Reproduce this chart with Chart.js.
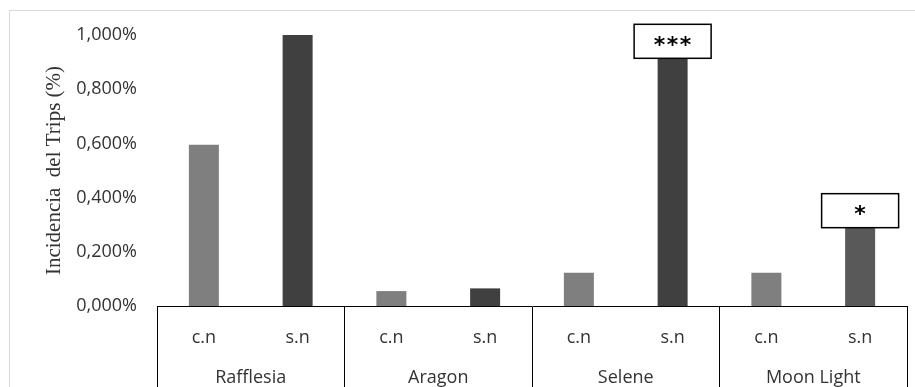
<!DOCTYPE html>
<html lang="es">
<head>
    <meta charset="UTF-8">
    <title>Incidencia del Trips</title>
    <style>
        body {
            margin: 0;
            background-color: #ffffff;
        }
        .chart-box {
            position: relative;
            width: 915px;
            height: 387px;
            overflow: hidden;
        }
        .frame {
            position: absolute;
            left: 9px;
            top: 10px;
            width: 960px;
            height: 420px;
            border: 1px solid #d9d9d9;
        }
        canvas {
            position: absolute;
            left: 0;
            top: 0;
        }
    </style>
    <script src="https://cdn.jsdelivr.net/npm/chart.js"></script>
</head>
<body>
    <div class="chart-box">
        <div class="frame"></div>
        <canvas id="tripsChart" width="915" height="387"></canvas>
    </div>

    <script>
        // datos (incidencia en %)
        const varieties = ['Rafflesia', 'Aragon', 'Selene', 'Moon Light'];
        const subLabels = ['c.n', 's.n', 'c.n', 's.n', 'c.n', 's.n', 'c.n', 's.n'];
        const cnValues = [0.595, 0.055, 0.123, 0.123];
        const snValues = [1.0, 0.065, 0.914, 0.289];
        const significance = ['', '', '***', '*'];
        const yTicks = [0, 0.2, 0.4, 0.6, 0.8, 1.0];

        const textColor = '#333333';

        // cajas con los asteriscos encima de las barras s.n
        const sigBoxes = {
            id: 'sigBoxes',
            afterDatasetsDraw(chart) {
                const meta = chart.getDatasetMeta(1);
                const ctx = chart.ctx;
                const w = 77, h = 34, gap = 13;
                ctx.save();
                significance.forEach((txt, i) => {
                    if (!txt) return;
                    const bar = meta.data[i];
                    const x = bar.x - w / 2;
                    const y = bar.y - h;
                    ctx.fillStyle = '#ffffff';
                    ctx.fillRect(x, y, w, h);
                    ctx.strokeStyle = '#000000';
                    ctx.lineWidth = 1.5;
                    ctx.strokeRect(x, y, w, h);
                    ctx.fillStyle = '#000000';
                    ctx.font = 'bold 22px "DejaVu Sans"';
                    ctx.textAlign = 'center';
                    ctx.textBaseline = 'middle';
                    const n = txt.length;
                    for (let k = 0; k < n; k++) {
                        ctx.fillText(txt[k], bar.x + (k - (n - 1) / 2) * gap, y + h / 2 + 5);
                    }
                });
                ctx.restore();
            }
        };

        const ctx = document.getElementById('tripsChart').getContext('2d');
        const tripsChart = new Chart(ctx, {
            type: 'bar',
            data: {
                labels: varieties,
                datasets: [
                    {
                        label: 'c.n',
                        data: cnValues,
                        backgroundColor: '#7f7f7f',
                        categoryPercentage: 1.0,
                        barPercentage: 0.32
                    },
                    {
                        label: 's.n',
                        data: snValues,
                        backgroundColor: ['#404040', '#404040', '#404040', '#595959'],
                        categoryPercentage: 1.0,
                        barPercentage: 0.32
                    }
                ]
            },
            options: {
                responsive: false,
                animation: false,
                layout: {
                    padding: { left: 40, right: 8, top: 35, bottom: 0 }
                },
                plugins: {
                    legend: { display: false },
                    tooltip: { enabled: false }
                },
                scales: {
                    x: {
                        position: 'bottom',
                        weight: 1,
                        offset: true,
                        grid: {
                            drawOnChartArea: false,
                            drawTicks: true,
                            tickLength: 40,
                            color: '#000000',
                            offset: true
                        },
                        border: { display: false },
                        ticks: {
                            padding: -28,
                            color: textColor,
                            autoSkip: false,
                            maxRotation: 0,
                            font: { family: 'Open Sans', size: 18 }
                        },
                        afterFit: s => { s.height = 32; }
                    },
                    sub: {
                        type: 'category',
                        labels: subLabels,
                        position: 'bottom',
                        weight: 0,
                        offset: true,
                        grid: {
                            drawOnChartArea: false,
                            drawTicks: true,
                            tickLength: 49,
                            offset: true,
                            color: c => (c.index === undefined || c.index % 2 === 0) ? '#000000' : 'rgba(0,0,0,0)'
                        },
                        border: { display: true, color: '#000000', width: 1 },
                        ticks: {
                            padding: -28,
                            color: textColor,
                            autoSkip: false,
                            maxRotation: 0,
                            font: { family: 'Open Sans', size: 18 }
                        },
                        afterFit: s => { s.height = 49; }
                    },
                    y: {
                        min: 0,
                        max: 1,
                        grid: { display: false, drawTicks: false },
                        border: { display: false },
                        afterBuildTicks: s => { s.ticks = yTicks.map(v => ({ value: v })); },
                        ticks: {
                            padding: 20,
                            color: textColor,
                            font: { family: 'Open Sans', size: 18 },
                            callback: v => v.toFixed(3).replace('.', ',') + '%'
                        },
                        title: {
                            display: true,
                            text: 'Incidencia  del Trips (%)',
                            color: textColor,
                            font: { family: 'Liberation Serif', size: 21 },
                            padding: { top: 2, bottom: 0 }
                        },
                        afterFit: s => { s.width = 117; }
                    }
                }
            },
            plugins: [sigBoxes]
        });
    </script>
</body>
</html>
